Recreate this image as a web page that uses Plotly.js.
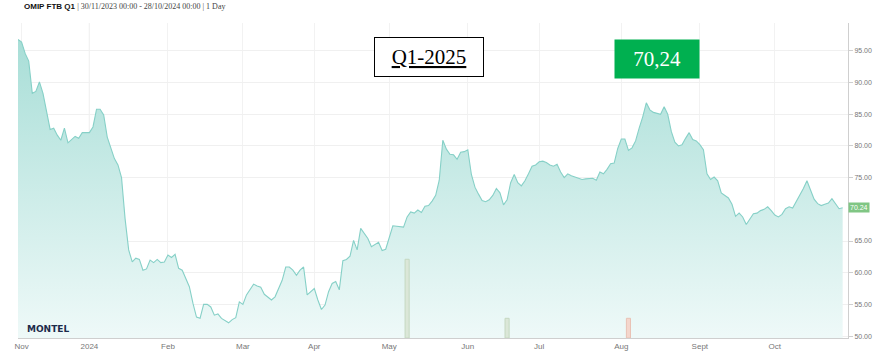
<!DOCTYPE html>
<html>
<head>
<meta charset="utf-8">
<script src="https://cdn.plot.ly/plotly-3.0.1.min.js"></script>
<style>html,body{margin:0;padding:0;background:#fff;}#chart{width:874px;height:364px;}</style>
</head>
<body>
<div id="chart"></div>
<script>
// Trading dates (OMIP FTB Q1-2025), daily close
const dates = [
"2023-11-30","2023-12-01","2023-12-04","2023-12-05","2023-12-06","2023-12-07","2023-12-08","2023-12-11",
"2023-12-13","2023-12-14","2023-12-15","2023-12-18","2023-12-19","2023-12-20","2023-12-22","2023-12-27",
"2023-12-28","2024-01-02","2024-01-03","2024-01-04","2024-01-05","2024-01-08","2024-01-09","2024-01-11",
"2024-01-12","2024-01-15","2024-01-16","2024-01-17","2024-01-18","2024-01-19","2024-01-22","2024-01-23",
"2024-01-24","2024-01-25","2024-01-26","2024-01-29","2024-01-30","2024-01-31","2024-02-01","2024-02-02",
"2024-02-05","2024-02-06","2024-02-07","2024-02-09","2024-02-12","2024-02-13","2024-02-14","2024-02-15",
"2024-02-16","2024-02-19","2024-02-20","2024-02-21","2024-02-22","2024-02-26","2024-02-27","2024-02-28",
"2024-02-29","2024-03-01","2024-03-04","2024-03-06","2024-03-07","2024-03-08","2024-03-11","2024-03-12",
"2024-03-13","2024-03-14","2024-03-18","2024-03-19","2024-03-20","2024-03-21","2024-03-22","2024-03-25",
"2024-03-26","2024-03-27","2024-03-28","2024-04-02","2024-04-03","2024-04-04","2024-04-05","2024-04-08",
"2024-04-09","2024-04-10","2024-04-11","2024-04-12","2024-04-15","2024-04-16","2024-04-17","2024-04-18",
"2024-04-19","2024-04-23","2024-04-24","2024-04-26","2024-04-29","2024-04-30","2024-05-03","2024-05-07",
"2024-05-08","2024-05-09","2024-05-10","2024-05-13","2024-05-14","2024-05-15","2024-05-16","2024-05-17",
"2024-05-20","2024-05-21","2024-05-22","2024-05-23","2024-05-24","2024-05-27","2024-05-28","2024-05-29",
"2024-05-30","2024-05-31","2024-06-03","2024-06-04","2024-06-05","2024-06-06","2024-06-07","2024-06-10",
"2024-06-11","2024-06-12","2024-06-13","2024-06-14","2024-06-17","2024-06-18","2024-06-19","2024-06-20",
"2024-06-21","2024-06-24","2024-06-25","2024-06-26","2024-06-27","2024-06-28","2024-07-01","2024-07-02",
"2024-07-03","2024-07-04","2024-07-05","2024-07-08","2024-07-09","2024-07-10","2024-07-11","2024-07-12",
"2024-07-15","2024-07-16","2024-07-17","2024-07-18","2024-07-19","2024-07-22","2024-07-23","2024-07-24",
"2024-07-25","2024-07-26","2024-07-29","2024-07-30","2024-07-31","2024-08-01","2024-08-02","2024-08-05",
"2024-08-06","2024-08-07","2024-08-08","2024-08-09","2024-08-12","2024-08-13","2024-08-14","2024-08-15",
"2024-08-16","2024-08-19","2024-08-20","2024-08-21","2024-08-22","2024-08-23","2024-08-26","2024-08-27",
"2024-08-28","2024-08-29","2024-08-30","2024-09-02","2024-09-03","2024-09-04","2024-09-05","2024-09-06",
"2024-09-09","2024-09-10","2024-09-11","2024-09-12","2024-09-13","2024-09-16","2024-09-17","2024-09-18",
"2024-09-19","2024-09-20","2024-09-23","2024-09-24","2024-09-25","2024-09-26","2024-09-27","2024-09-30",
"2024-10-01","2024-10-02","2024-10-03","2024-10-04","2024-10-07","2024-10-08","2024-10-09","2024-10-10",
"2024-10-11","2024-10-14","2024-10-15","2024-10-16","2024-10-17","2024-10-18","2024-10-21","2024-10-22",
"2024-10-23","2024-10-24","2024-10-25","2024-10-28"
];
const prices = [
96.8,96.4,94.6,93.4,88.3,88.6,90.1,88.3,
82.6,82.8,81.7,80.9,82.8,80.5,81.5,81.2,
82.1,82.1,83.0,85.8,85.8,84.9,81.4,78.0,
77.0,75.0,68.5,63.6,61.7,62.3,62.1,60.4,
60.6,62.0,61.6,62.1,61.6,61.7,62.8,62.4,
62.9,60.7,60.4,57.8,55.2,53.0,52.8,55.0,
55.0,54.6,53.3,53.5,52.8,52.1,52.6,52.9,
55.4,55.0,56.5,58.2,57.9,57.7,56.6,56.1,
55.7,56.2,58.8,60.9,60.9,60.4,59.6,60.4,
60.9,56.5,57.0,57.5,55.7,54.2,54.9,57.0,
58.3,58.6,57.3,61.9,62.1,62.6,65.1,63.6,
67.0,65.4,64.1,64.8,63.5,63.7,67.4,67.2,
67.2,68.8,69.6,69.4,69.9,69.5,70.5,70.6,
71.3,72.2,74.6,80.9,79.5,78.7,78.6,77.9,
79.0,79.1,79.4,75.5,73.5,72.4,71.4,71.2,
71.5,72.2,73.3,72.6,70.7,71.5,74.2,75.5,
74.2,73.7,74.5,75.6,76.8,77.0,77.5,77.6,
77.4,77.0,76.8,77.1,75.9,75.0,75.6,75.3,
75.1,75.0,74.7,74.8,74.9,74.9,74.6,75.9,
75.6,76.3,77.2,77.3,79.6,81.1,81.1,79.3,
79.7,80.8,82.8,84.6,86.8,85.7,85.3,85.1,
85.0,86.2,85.0,82.3,80.6,80.0,80.2,81.2,
82.1,81.0,80.8,80.2,79.4,75.6,74.7,75.1,
74.5,72.6,72.2,71.8,70.8,68.9,69.4,68.8,
67.6,68.5,69.3,69.4,69.8,70.0,70.4,69.8,
69.1,68.8,69.2,70.1,70.4,70.2,71.2,72.4,
73.3,74.5,72.9,71.6,70.9,70.6,70.8,71.0,
71.7,70.8,70.1,70.24
];
// Traded volume bars
const volDates = ["2024-05-09","2024-06-18","2024-08-05"];
const volumes = [4, 1, 1];
const volColors = ["#dbe7d8","#dbe7d8","#f4d6cc"];
const volLines = ["#c5d8c1","#c5d8c1","#e9c2b5"];
// Axis ticks
const tickDates = ["2023-12-01","2024-01-02","2024-02-01","2024-03-01","2024-04-02","2024-05-02","2024-06-03","2024-07-01","2024-08-01","2024-09-02","2024-10-01"];
const tickLabels = ["Nov","2024","Feb","Mar","Apr","May","Jun","Jul","Aug","Sept","Oct"];
const yTicks = [50,55,60,65,70,75,80,85,90,95];
const holidays = ["2023-12-25","2023-12-26","2024-01-01","2024-03-29","2024-04-01","2024-05-01"];
const lastPrice = prices[prices.length-1];

const priceTrace = {
  x: dates, y: prices, type: 'scatter', mode: 'lines',
  line: {color: '#86d0c7', width: 1.1, shape: 'linear'},
  fill: 'tozeroy',
  fillgradient: {type: 'vertical', start: 50, stop: 97,
    colorscale: [[0, 'rgb(238,249,248)'], [1, 'rgb(168,222,215)']]},
  hoverinfo: 'x+y', showlegend: false
};
const volTrace = {
  x: volDates, y: volumes, type: 'bar', yaxis: 'y2',
  width: 86400000 * 1.15,
  marker: {color: volColors, line: {color: volLines, width: 1}},
  showlegend: false, hoverinfo: 'x+y'
};

const layout = {
  width: 874, height: 364,
  margin: {l: 18, r: 26, t: 23, b: 26},
  paper_bgcolor: '#ffffff', plot_bgcolor: '#ffffff',
  title: {
    text: "<b>OMIP FTB Q1</b> <span style='font-family:Liberation Serif, serif;color:#444'>| 30/11/2023 00:00 - 28/10/2024 00:00 | 1 Day</span>",
    font: {family: 'Liberation Sans, Arial, sans-serif', size: 8, color: '#111'},
    x: 24/874, xanchor: 'left', xref: 'container',
    y: 1 - 6.5/364, yanchor: 'middle', yref: 'container'
  },
  xaxis: {
    type: 'date',
    range: ['2023-11-30', '2024-10-29 12:00'],
    rangebreaks: [{bounds: ['sat', 'mon']}, {values: holidays}],
    tickmode: 'array', tickvals: tickDates, ticktext: tickLabels,
    showgrid: true, gridcolor: '#f2f2f2', gridwidth: 1,
    showline: true, linecolor: '#cfcfcf', linewidth: 1,
    ticks: '', zeroline: false,
    tickfont: {family: 'Liberation Sans, Arial, sans-serif', size: 8, color: '#777'},
    fixedrange: true
  },
  yaxis: {
    side: 'right', range: [49.7, 99.4],
    tickmode: 'array', tickvals: yTicks.filter(v => v !== 70),
    tickformat: '.2f',
    showgrid: true, gridcolor: '#f0f0f0', gridwidth: 1,
    showline: true, linecolor: '#cfcfcf', linewidth: 1,
    ticks: 'outside', ticklen: 4, tickcolor: '#cfcfcf',
    zeroline: false,
    tickfont: {family: 'Liberation Sans, Arial, sans-serif', size: 7, color: '#777'},
    fixedrange: true
  },
  yaxis2: {overlaying: 'y', range: [0, 16], visible: false, fixedrange: true},
  shapes: [
    {type: 'line', xref: 'x', yref: 'paper', x0: tickDates[1], x1: tickDates[1], y0: 0, y1: 1,
     line: {color: '#d4d4d4', width: 1}, layer: 'below'}
  ],
  annotations: [
    {text: '<u>Q1-2025</u>', xref: 'paper', yref: 'paper', x: 0.4955, y: 0.891,
     xanchor: 'center', yanchor: 'middle', showarrow: false,
     font: {family: 'Liberation Serif, serif', size: 21, color: '#000'},
     bgcolor: '#ffffff', bordercolor: '#000000', borderwidth: 1, borderpad: 2,
     width: 104, height: 34},
    {text: lastPrice.toFixed(2).replace('.', ','), xref: 'paper', yref: 'paper', x: 0.770, y: 0.885,
     xanchor: 'center', yanchor: 'middle', showarrow: false,
     font: {family: 'Liberation Serif, serif', size: 21, color: '#ffffff'},
     bgcolor: '#00b050', borderpad: 2, width: 80, height: 34},
    {text: lastPrice.toFixed(2), xref: 'paper', yref: 'y', x: 1, y: lastPrice,
     xanchor: 'left', yanchor: 'middle', xshift: 0, showarrow: false,
     font: {family: 'Liberation Sans, Arial, sans-serif', size: 7, color: '#ffffff'},
     bgcolor: '#80c684', borderpad: 1},
    {text: '<b>MONTEL</b>', xref: 'paper', yref: 'paper', x: 0.036, y: 0.029,
     xanchor: 'center', yanchor: 'middle', showarrow: false,
     font: {family: 'DejaVu Sans, sans-serif', size: 9, color: '#1c2b4b'}}
  ],
  hovermode: false
};

Plotly.newPlot('chart', [priceTrace, volTrace], layout, {displayModeBar: false, staticPlot: true});
</script>
</body>
</html>
